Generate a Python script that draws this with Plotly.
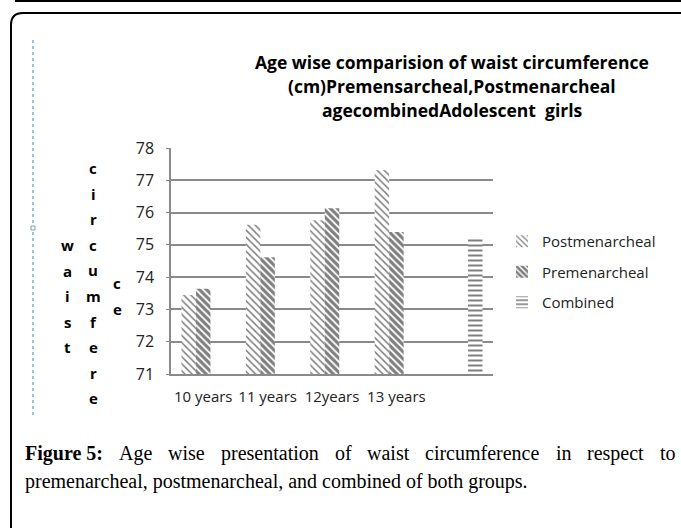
import plotly.graph_objects as go

categories = ["10 years", "11 years", "12years", "13 years", " "]
postmenarcheal = [73.45, 75.62, 75.76, 77.31, None]
premenarcheal = [73.64, 74.62, 76.13, 75.40, None]
combined = [None, None, None, None, 75.24]
y_ticks = [71, 72, 73, 74, 75, 76, 77, 78]

W, H = 681, 528
L, R, T, B = 171, 493, 148, 374


def px(x):
    return (x - L) / (R - L)


def py(y):
    return (B - y) / (B - T)


fig = go.Figure()
fig.add_trace(go.Bar(
    x=categories, y=postmenarcheal, name="Postmenarcheal", legendgroup="a",
    marker=dict(color="white", line=dict(width=0),
                pattern=dict(shape="\\", fgcolor="#000", bgcolor="white", size=5, solidity=0.3)),
))
fig.add_trace(go.Bar(
    x=categories, y=premenarcheal, name="Premenarcheal", legendgroup="b",
    marker=dict(color="white", line=dict(width=0),
                pattern=dict(shape="\\", fgcolor="#000", bgcolor="white", size=5, solidity=0.65)),
))
fig.add_trace(go.Bar(
    x=categories, y=combined, name="Combined", legendgroup="c",
    marker=dict(color="white", line=dict(width=0),
                pattern=dict(shape="-", fgcolor="#000", bgcolor="white", size=5, solidity=0.4)),
))

ann = []
title_lines = ["Age wise comparision of waist circumference",
               "(cm)Premensarcheal,Postmenarcheal",
               "agecombinedAdolescent  girls"]
for i, t in enumerate(title_lines):
    ann.append(dict(text=t, xref="paper", yref="paper", x=px(452), y=py(62 + 24 * i),
                    xanchor="center", yanchor="middle", showarrow=False,
                    font=dict(family="Open Sans", size=17.5, color="black", weight="bold")))

cols = [("waist", 67, 245), ("circumfere", 93, 168), ("ce", 117, 283)]
for word, cx, cy in cols:
    for i, ch in enumerate(word):
        ann.append(dict(text=ch, xref="paper", yref="paper", x=px(cx), y=py(cy + 25.6 * i),
                        xanchor="center", yanchor="middle", showarrow=False,
                        font=dict(family="Open Sans", size=15, color="black", weight="bold")))

# caption, first line justified (word start positions in pixels)
cap_words = ["<b>Figure 5:</b>", "Age", "wise", "presentation", "of", "waist",
             "circumference", "in", "respect", "to"]
cap_x = [23, 117, 166, 219, 333, 365, 423, 554, 585, 658]
for w, xx in zip(cap_words, cap_x):
    ann.append(dict(text=w, xref="paper", yref="paper", x=px(xx), y=py(453), xanchor="left",
                    yanchor="middle", showarrow=False,
                    font=dict(family="Liberation Serif", size=20, color="black")))
ann.append(dict(text="premenarcheal, postmenarcheal, and combined of both groups.",
                xref="paper", yref="paper", x=px(23), y=py(481), xanchor="left", yanchor="middle",
                showarrow=False, font=dict(family="Liberation Serif", size=20, color="black")))

shapes = [
    dict(type="line", xref="paper", yref="paper", x0=px(15), x1=px(690), y0=py(1), y1=py(1),
         line=dict(color="black", width=2)),
    dict(type="path", xref="paper", yref="paper",
         path=f"M {px(11)},{py(540)} L {px(11)},{py(25)} Q {px(11)},{py(13)} {px(23)},{py(13)} L {px(700)},{py(13)}",
         line=dict(color="black", width=2)),
    dict(type="line", xref="paper", yref="paper", x0=px(33), x1=px(33), y0=py(40), y1=py(415),
         line=dict(color="#9cc3ef", width=2, dash="dot")),
    dict(type="rect", xref="paper", yref="paper", x0=px(31), x1=px(35), y0=py(226), y1=py(230),
         line=dict(color="#7a9cc7", width=1), fillcolor="white"),
]

fig.update_layout(
    width=W, height=H,
    margin=dict(l=L, r=W - R, t=T, b=H - B),
    paper_bgcolor="white", plot_bgcolor="white",
    barmode="group", bargap=0.325, bargroupgap=0,
    font=dict(family="Open Sans", size=15, color="#222"),
    xaxis=dict(type="category", showline=True, linecolor="#8a8a8a", linewidth=1.5,
               ticks="", tickfont=dict(size=15, color="#222"), showgrid=False,
               ticklabelstandoff=8),
    yaxis=dict(range=[71, 78], tickvals=y_ticks, showline=True, linecolor="#8a8a8a", linewidth=1.5,
               showgrid=True, gridcolor="#8a8a8a", gridwidth=1.5, ticks="outside", ticklen=3,
               tickcolor="#8a8a8a", ticklabelstandoff=9, tickfont=dict(size=16, color="#222"),
               zeroline=False),
    showlegend=True,
    legend=dict(x=px(502), y=py(225), xanchor="left", yanchor="top", traceorder="grouped",
                tracegroupgap=8, font=dict(size=15, color="#222"), bgcolor="rgba(0,0,0,0)"),
    annotations=ann, shapes=shapes,
)

fig.write_html("out.html", config={"displayModeBar": False},
               post_script="document.body.style.margin='0px';document.body.style.padding='0px';")
